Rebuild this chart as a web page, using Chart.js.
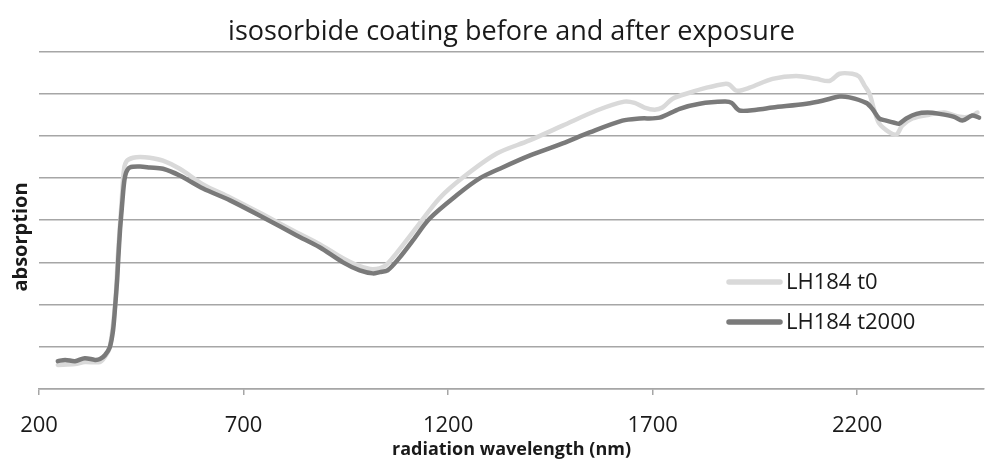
<!DOCTYPE html>
<html><head><meta charset="utf-8">
<script src="https://cdn.jsdelivr.net/npm/chart.js@4"></script>
<style>html,body{margin:0;padding:0;background:#fff}#wrap{width:985px;height:462px}</style>
</head><body><div id="wrap"><canvas id="c" width="985" height="462"></canvas></div>
<script>
const titleText = 'isosorbide coating before and after exposure';
const xTitle = 'radiation wavelength (nm)';
const yTitle = 'absorption';
const seriesNames = ['LH184 t0', 'LH184 t2000'];
const xTicks = [200, 700, 1200, 1700, 2200];

const t0X = [246, 288, 312, 349, 361, 373, 386, 393, 398, 403, 408, 415, 430, 447, 471, 503, 544, 601, 667, 747, 830, 886, 943, 984, 1016, 1045, 1074, 1123, 1179, 1236, 1319, 1399, 1480, 1563, 1631, 1656, 1680, 1705, 1724, 1749, 1790, 1832, 1876, 1888, 1905, 1937, 1993, 2051, 2100, 2132, 2157, 2188, 2205, 2218, 2230, 2242, 2254, 2279, 2296, 2310, 2335, 2376, 2413, 2450, 2474, 2494];
const t0Y = [0.57, 0.59, 0.64, 0.64, 0.76, 0.99, 1.99, 3.17, 3.88, 4.59, 5.22, 5.41, 5.48, 5.50, 5.48, 5.41, 5.22, 4.85, 4.54, 4.14, 3.71, 3.43, 3.10, 2.91, 2.84, 2.91, 3.22, 3.83, 4.52, 5.01, 5.58, 5.89, 6.24, 6.60, 6.81, 6.78, 6.67, 6.62, 6.67, 6.88, 7.02, 7.14, 7.23, 7.21, 7.07, 7.14, 7.35, 7.42, 7.35, 7.30, 7.47, 7.47, 7.40, 7.19, 7.00, 6.60, 6.29, 6.08, 6.03, 6.24, 6.41, 6.50, 6.55, 6.45, 6.45, 6.55];

const t2000X = [246, 264, 288, 312, 337, 349, 361, 373, 381, 386, 391, 394, 398, 403, 408, 413, 422, 447, 471, 503, 544, 601, 667, 747, 830, 886, 943, 984, 1016, 1033, 1052, 1082, 1114, 1155, 1221, 1277, 1333, 1399, 1480, 1546, 1626, 1668, 1717, 1766, 1815, 1876, 1893, 1912, 1954, 1993, 2076, 2115, 2157, 2181, 2222, 2237, 2254, 2271, 2291, 2303, 2320, 2345, 2372, 2401, 2437, 2457, 2481, 2498];
const t2000Y = [0.66, 0.69, 0.66, 0.73, 0.69, 0.71, 0.80, 0.99, 1.39, 1.94, 2.58, 3.12, 3.76, 4.35, 4.89, 5.13, 5.25, 5.27, 5.25, 5.22, 5.06, 4.75, 4.47, 4.07, 3.64, 3.36, 3.00, 2.81, 2.74, 2.77, 2.81, 3.12, 3.52, 4.04, 4.59, 4.99, 5.25, 5.53, 5.82, 6.08, 6.36, 6.41, 6.43, 6.64, 6.76, 6.81, 6.78, 6.60, 6.62, 6.67, 6.76, 6.83, 6.93, 6.91, 6.78, 6.64, 6.41, 6.36, 6.31, 6.29, 6.41, 6.52, 6.55, 6.52, 6.45, 6.36, 6.48, 6.43];

const LIGHT = '#d9d9d9';
const DARK = '#7a7a7a';
const GRID = '#a6a6a6';
const TEXT = '#1a1a1a';

function pts(xs, ys) { return xs.map((x, i) => ({x: x, y: ys[i]})); }

const overlay = {
  id: 'overlay',
  afterDraw(chart) {
    const ctx = chart.ctx;
    ctx.save();
    ctx.translate(21, 237);
    ctx.rotate(-Math.PI / 2);
    ctx.fillStyle = TEXT;
    ctx.font = 'bold 20px "Open Sans"';
    ctx.textAlign = 'center';
    ctx.textBaseline = 'middle';
    ctx.fillText(yTitle, 0, 0);
    ctx.restore();
    ctx.save();
    const items = [{c: LIGHT, y: 282}, {c: DARK, y: 322}];
    items.forEach((it, i) => {
      ctx.strokeStyle = it.c;
      ctx.lineWidth = 5.5;
      ctx.lineCap = 'round';
      ctx.beginPath();
      ctx.moveTo(729, it.y);
      ctx.lineTo(780, it.y);
      ctx.stroke();
      ctx.fillStyle = TEXT;
      ctx.font = '22px "Open Sans"';
      ctx.textAlign = 'left';
      ctx.textBaseline = 'middle';
      ctx.fillText(seriesNames[i], 786, it.y + 1);
    });
    ctx.restore();
  }
};

new Chart(document.getElementById('c'), {
  type: 'scatter',
  data: {
    datasets: [
      {label: seriesNames[0], data: pts(t0X, t0Y), showLine: true, borderColor: LIGHT, backgroundColor: LIGHT, borderWidth: 4.5, pointRadius: 0, tension: 0.3, order: 2, borderCapStyle: 'round', borderJoinStyle: 'round'},
      {label: seriesNames[1], data: pts(t2000X, t2000Y), showLine: true, borderColor: DARK, backgroundColor: DARK, borderWidth: 4.5, pointRadius: 0, tension: 0.3, order: 1, borderCapStyle: 'round', borderJoinStyle: 'round'}
    ]
  },
  options: {
    responsive: false,
    animation: false,
    devicePixelRatio: 1,
    layout: {padding: {left: 0, right: 1, top: 0, bottom: 0}},
    plugins: {
      legend: {display: false},
      tooltip: {enabled: false},
      title: {
        display: true, text: titleText, fullSize: false,
        color: TEXT,
        font: {family: '"Open Sans"', size: 27, weight: 'normal', lineHeight: 1.2},
        padding: {top: 16, bottom: 3}
      }
    },
    scales: {
      x: {
        type: 'linear', min: 200, max: 2510,
        afterBuildTicks: (s) => { s.ticks = xTicks.map(v => ({value: v})); },
        afterFit: (s) => { s.height = 73; },
        ticks: {color: TEXT, font: {family: '"Open Sans"', size: 22}, padding: 18, maxRotation: 0, callback: (v) => String(v)},
        grid: {display: true, drawOnChartArea: false, drawTicks: true, tickLength: 6, color: GRID, lineWidth: 1.5},
        border: {display: true, color: GRID, width: 1.5},
        title: {display: true, text: xTitle, color: TEXT, font: {family: '"Open Sans"', size: 18, weight: 'bold', lineHeight: 1.2}, padding: {top: 0, bottom: 1}}
      },
      y: {
        type: 'linear', min: 0, max: 8,
        afterFit: (s) => { s.width = 39; },
        ticks: {display: false, stepSize: 1},
        grid: {display: true, drawTicks: false, color: GRID, lineWidth: 1.5},
        border: {display: false}
      }
    }
  },
  plugins: [overlay]
});
</script>
</body></html>
